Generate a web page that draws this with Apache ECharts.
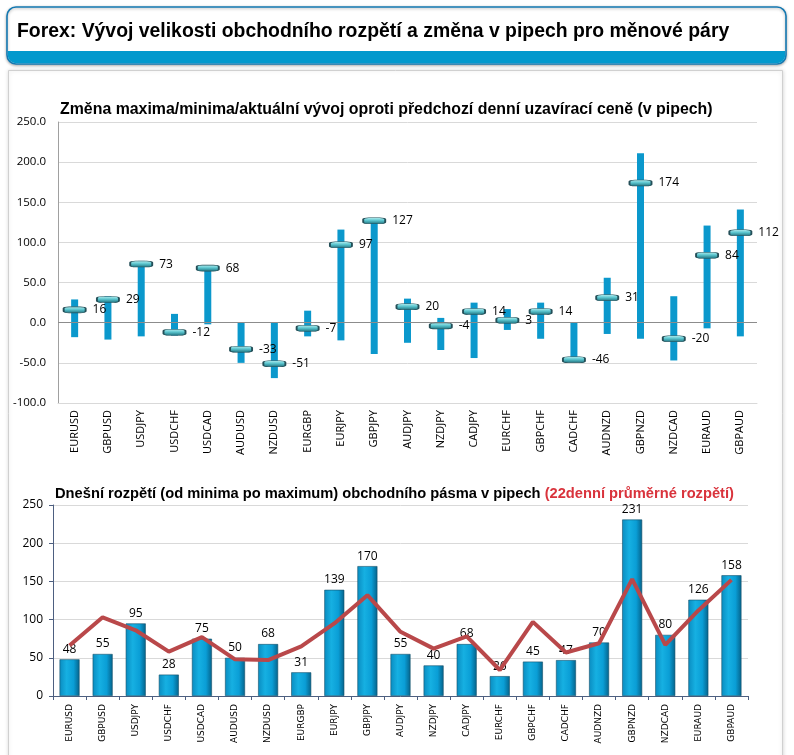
<!DOCTYPE html>
<html><head><meta charset="utf-8">
<script src="https://cdn.jsdelivr.net/npm/echarts@6/dist/echarts.min.js"></script>
<style>html,body{margin:0;padding:0;background:#fff}#c{width:794px;height:755px}</style>
</head><body><div id="c"></div>
<script>
const categories = ['EURUSD','GBPUSD','USDJPY','USDCHF','USDCAD','AUDUSD','NZDUSD','EURGBP','EURJPY','GBPJPY','AUDJPY','NZDJPY','CADJPY','EURCHF','GBPCHF','CADCHF','AUDNZD','GBPNZD','NZDCAD','EURAUD','GBPAUD'];
const changeMax = [29, 33, 77, 11, 71, 0, 0, 15, 116, 127, 30, 6, 25, 17, 25, 0, 56, 211, 33, 121, 141];
const changeMin = [-18, -21, -17, -16, -2, -50, -69, -17, -22, -39, -25, -34, -44, -9, -20, -46, -14, -20, -47, -7, -17];
const changeNow = [16, 29, 73, -12, 68, -33, -51, -7, 97, 127, 20, -4, 14, 3, 14, -46, 31, 174, -20, 84, 112];
const rangeToday = [48, 55, 95, 28, 75, 50, 68, 31, 139, 170, 55, 40, 68, 26, 45, 47, 70, 231, 80, 126, 158];
const avg22 = [66, 103, 86, 58, 77, 48, 47, 65, 95, 132, 84, 62, 78, 34, 97, 57, 69, 153, 67, 112, 152];
const topTicks = {min: -100, max: 250, interval: 50};
const bottomTicks = {min: 0, max: 250, interval: 50};

const chart = echarts.init(document.getElementById('c'));
const rangeData = categories.map((c, i) => [i, changeMin[i], changeMax[i]]);
const markerGrad = new echarts.graphic.LinearGradient(0, 0, 0, 1, [
  {offset: 0, color: '#b6eef0'}, {offset: 0.45, color: '#5cc6cf'}, {offset: 1, color: '#1d6f7c'}]);
const barGrad = new echarts.graphic.LinearGradient(0, 0, 1, 0, [
  {offset: 0, color: '#0a8cc0'}, {offset: 0.35, color: '#16b0e2'}, {offset: 0.7, color: '#0a9ed6'}, {offset: 1, color: '#05628a'}]);

chart.setOption({
  animation: false,
  backgroundColor: '#fff',
  graphic: [
    {type: 'rect', shape: {x: 8.5, y: 70.5, width: 774, height: 700}, style: {fill: '#fff', stroke: '#d0d0d0', lineWidth: 1, shadowBlur: 4, shadowColor: 'rgba(0,0,0,0.15)'}, z: -10},
    {type: 'rect', shape: {x: 7, y: 7, width: 779, height: 57, r: 9}, style: {fill: '#fff', stroke: '#1479b2', lineWidth: 1.6, shadowBlur: 3, shadowColor: 'rgba(0,0,0,0.3)', shadowOffsetY: 1}, z: -5},
    {type: 'rect', shape: {x: 7.8, y: 51, width: 777.4, height: 12.2, r: [0, 0, 8, 8]}, style: {fill: '#0399cd'}, z: -4},
    {type: 'text', x: 17, y: 32, style: {text: 'Forex: Vývoj velikosti obchodního rozpětí a změna v pipech pro měnové páry', font: 'bold 19.4px "Liberation Sans", Arial, sans-serif', fill: '#000', textVerticalAlign: 'middle'}}
  ],
  title: [
    {text: 'Změna maxima/minima/aktuální vývoj oproti předchozí denní uzavírací ceně (v pipech)', left: 55, top: 97,
      textStyle: {fontFamily: '"Liberation Sans", Arial, sans-serif', fontWeight: 'bold', fontSize: 15.9, color: '#000'}},
    {text: '{a|Dnešní rozpětí (od minima po maximum) obchodního pásma v pipech }{b|(22denní průměrné rozpětí)}', left: 50, top: 481,
      textStyle: {rich: {
        a: {fontFamily: '"Liberation Sans", Arial, sans-serif', fontWeight: 'bold', fontSize: 14.7, color: '#000'},
        b: {fontFamily: '"Liberation Sans", Arial, sans-serif', fontWeight: 'bold', fontSize: 14.7, color: '#d9333c'}}}}
  ],
  grid: [
    {left: 58, right: 37, top: 122, height: 281},
    {left: 53, right: 46, top: 505, height: 191}
  ],
  xAxis: [
    {type: 'category', data: categories, gridIndex: 0, boundaryGap: true,
      axisLine: {onZero: false, lineStyle: {color: '#d9d9d9'}}, axisTick: {show: false},
      axisLabel: {rotate: 90, fontSize: 11, color: '#000', fontFamily: '"Open Sans", sans-serif', margin: 7}},
    {type: 'category', data: categories, gridIndex: 1,
      axisLine: {lineStyle: {color: '#4d5f80'}}, axisTick: {show: true, length: 4, lineStyle: {color: '#4d5f80'}},
      axisLabel: {rotate: 90, fontSize: 9, color: '#000', fontFamily: '"DejaVu Sans", sans-serif', margin: 8}}
  ],
  yAxis: [
    {type: 'value', gridIndex: 0, min: topTicks.min, max: topTicks.max, interval: topTicks.interval,
      axisLine: {show: true, lineStyle: {color: '#a0a0a0'}}, axisTick: {show: false},
      axisLabel: {formatter: v => v.toFixed(1), fontSize: 11.5, color: '#000', fontFamily: '"Open Sans", sans-serif', margin: 12},
      splitLine: {lineStyle: {color: '#d9d9d9'}}},
    {type: 'value', gridIndex: 1, min: bottomTicks.min, max: bottomTicks.max, interval: bottomTicks.interval,
      axisLine: {show: true, lineStyle: {color: '#4d5f80'}}, axisTick: {show: true, length: 4, lineStyle: {color: '#4d5f80'}},
      axisLabel: {fontSize: 12, color: '#000', fontFamily: '"Open Sans", sans-serif', margin: 10},
      splitLine: {lineStyle: {color: '#d9d9d9'}}}
  ],
  series: [
    {type: 'custom', xAxisIndex: 0, yAxisIndex: 0, data: rangeData,
      renderItem: (params, api) => {
        const top = api.coord([api.value(0), api.value(2)]);
        const bot = api.coord([api.value(0), api.value(1)]);
        const w = 7;
        return {type: 'rect', shape: {x: top[0] - w / 2, y: top[1], width: w, height: bot[1] - top[1]}, style: {fill: '#0b98cc'}};
      },
      markLine: {silent: true, symbol: 'none', label: {show: false}, lineStyle: {color: '#8c8c8c', type: 'solid', width: 1}, data: [{yAxis: 0}]}
    },
    {type: 'scatter', xAxisIndex: 0, yAxisIndex: 0, data: changeNow, symbol: 'roundRect', symbolSize: [22, 6],
      itemStyle: {color: markerGrad, borderColor: '#244f58', borderWidth: 1, opacity: 1},
      label: {show: true, position: 'right', distance: 6, fontSize: 12, color: '#000', fontFamily: '"Open Sans", sans-serif'}, z: 5},
    {type: 'bar', xAxisIndex: 1, yAxisIndex: 1, data: rangeToday, barWidth: 20,
      itemStyle: {color: barGrad, borderColor: '#15506a', borderWidth: 0.6},
      label: {show: true, position: 'top', fontSize: 12, color: '#000', fontFamily: '"Open Sans", sans-serif', distance: 4}},
    {type: 'line', xAxisIndex: 1, yAxisIndex: 1, data: avg22, symbol: 'none',
      lineStyle: {color: '#b9484a', width: 4}, z: 4}
  ]
});
</script></body></html>
